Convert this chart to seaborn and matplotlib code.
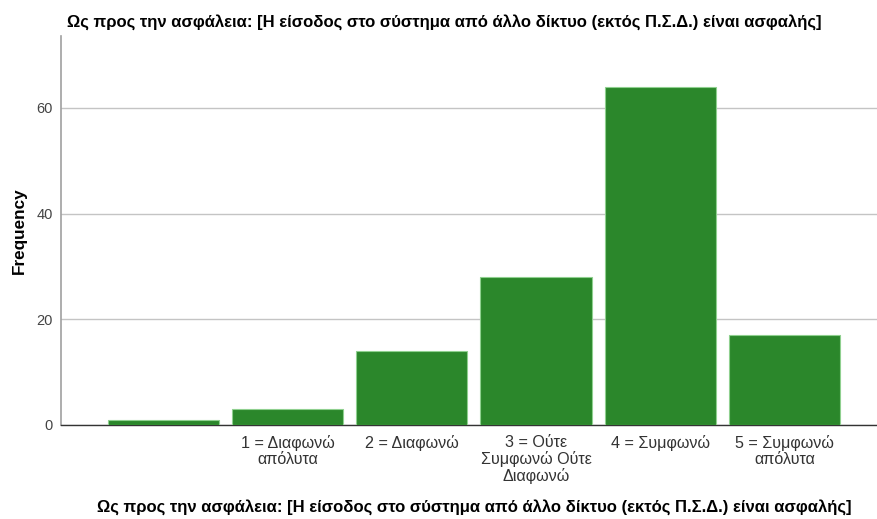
import matplotlib
matplotlib.use("Agg")
import matplotlib.pyplot as plt
import seaborn as sns
import pandas as pd

title = "Ως προς την ασφάλεια: [Η είσοδος στο σύστημα από άλλο δίκτυο (εκτός Π.Σ.Δ.) είναι ασφαλής]"
categories = ["", "1 = Διαφωνώ\nαπόλυτα", "2 = Διαφωνώ", "3 = Ούτε\nΣυμφωνώ Ούτε\nΔιαφωνώ",
              "4 = Συμφωνώ", "5 = Συμφωνώ\nαπόλυτα"]
frequency = [1, 3, 14, 28, 64, 17]
yticks = [0, 20, 40, 60]

sns.set_theme(style="white")
plt.rcParams['font.family'] = ['Liberation Sans', 'DejaVu Sans']

df = pd.DataFrame({"cat": categories, "freq": frequency})

fig = plt.figure(figsize=(8.77, 5.19), dpi=100)
ax = fig.add_axes([61/877, 1-425/519, 1-61/877, (425-36)/519])

sns.barplot(data=df, x="cat", y="freq", order=categories, color="#2b872b",
            saturation=1, width=0.895, edgecolor="#8fd08f", linewidth=0.8, ax=ax, zorder=3)

ax.set_xlim(-0.825, 5.745)
ax.set_ylim(0, 73.6)
ax.set_yticks(yticks)
ax.yaxis.grid(True, color="#c4c4c4", linewidth=1, zorder=0)
ax.set_axisbelow(True)
for s in ["top", "right"]:
    ax.spines[s].set_visible(False)
ax.spines["left"].set_color("#a0a0a0")
ax.spines["left"].set_linewidth(1.2)
ax.spines["bottom"].set_color("#333333")
ax.spines["bottom"].set_linewidth(1)
ax.tick_params(axis="x", length=0, labelsize=11.6, colors="#333333", pad=7)
ax.tick_params(axis="y", length=0, labelsize=10.5, colors="#444444", pad=6)
for lbl in ax.get_xticklabels():
    lbl.set_linespacing(1.1)
    lbl.set_horizontalalignment("center")

ax.set_xlabel("")
ax.set_ylabel("Frequency", fontsize=12.3, fontweight="bold", color="black", labelpad=7)
fig.text(474/877, 1-507/519, title, ha="center", va="center", fontsize=12, fontweight="bold", color="black")
fig.text(444/877, 1-22/519, title, ha="center", va="center", fontsize=12, fontweight="bold", color="black")

fig.savefig("out.png", dpi=100)
